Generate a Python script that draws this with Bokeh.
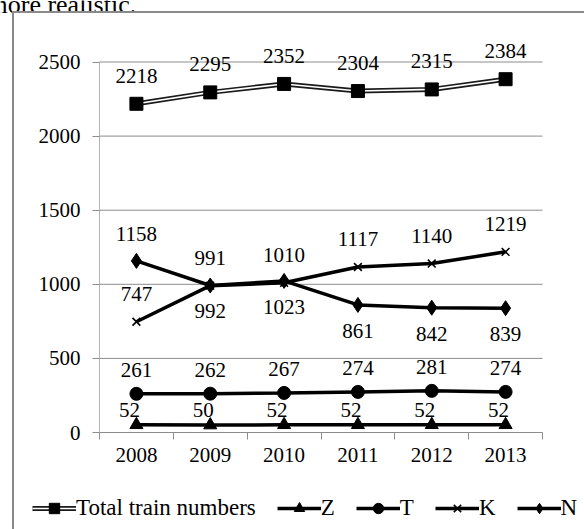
from bokeh.plotting import figure
from bokeh.layouts import column, row
from bokeh.models import Range1d, FixedTicker, Legend, LegendItem, Label, Spacer
from bokeh.embed import file_html
from bokeh.resources import INLINE
from bokeh.core.properties import value

# Train numbers by class, 2008-2013
years = ["2008", "2009", "2010", "2011", "2012", "2013"]
total = [2218, 2295, 2352, 2304, 2315, 2384]
z_trains = [52, 50, 52, 52, 52, 52]
t_trains = [261, 262, 267, 274, 281, 274]
k_trains = [747, 991, 1010, 1117, 1140, 1219]
n_trains = [1158, 992, 1023, 861, 842, 839]
y_ticks = [0, 500, 1000, 1500, 2000, 2500]

FONT = "Times New Roman"
GRID = "#8c8c8c"

xs = list(range(1, len(years) + 1))
x_lo, x_hi = xs[0] - 0.5, xs[-1] + 0.5

# ---- tail of the running text above the chart box
head = figure(width=584, height=13, output_backend="svg", toolbar_location=None,
              x_range=Range1d(0, 584), y_range=Range1d(0, 13),
              x_axis_type=None, y_axis_type=None, min_border=0)
head.outline_line_color = None
head.grid.visible = False
head.add_layout(Label(x=-13, y=9, text="more realistic.", text_font=FONT,
                      text_font_size="26px", text_color="black",
                      text_baseline="alphabetic"))

# ---- chart box: the frame fills the box, the axes sit inside it
PX_X = 443 / 6          # pixels per year
PX_Y = 370.5 / 2500     # pixels per train
W, H = 570, 516
LEFT, BOTTOM = 85, 97   # plot area offsets inside the box
p = figure(width=W, height=H, output_backend="svg", toolbar_location=None,
           x_range=Range1d(x_lo - LEFT / PX_X, x_hi + (W - LEFT - 443) / PX_X),
           y_range=Range1d(-BOTTOM / PX_Y, (H - BOTTOM) / PX_Y),
           min_border=0)
p.outline_line_color = None
p.background_fill_color = "white"
p.border_fill_color = "white"
p.styles = {"outline": "2px solid #8a8a8a"}

yax = p.yaxis[0]
yax.fixed_location = x_lo
yax.ticker = FixedTicker(ticks=y_ticks)
yax.bounds = (y_ticks[0], y_ticks[-1])
yax.axis_line_color = "#b4b4b4"
yax.major_tick_line_color = GRID
yax.major_tick_out = 7
yax.major_tick_in = 0
yax.minor_tick_line_color = None
yax.major_label_text_font = FONT
yax.major_label_text_font_size = "21px"
yax.major_label_text_color = "black"
yax.major_label_standoff = 12

# labels at year centres, tick marks between years
xax = p.xaxis[0]
xax.fixed_location = 0
xax.ticker = FixedTicker(ticks=xs, minor_ticks=[x - 0.5 for x in xs] + [x_hi])
xax.bounds = (x_lo, x_hi)
xax.major_label_overrides = {x: y for x, y in zip(xs, years)}
xax.major_tick_line_color = None
xax.major_tick_out = 7
xax.major_tick_in = 0
xax.minor_tick_line_color = GRID
xax.minor_tick_out = 7
xax.minor_tick_in = 0
xax.axis_line_color = GRID
xax.major_label_text_font = FONT
xax.major_label_text_font_size = "21px"
xax.major_label_text_color = "black"
xax.major_label_standoff = 8

p.grid.visible = False
# horizontal gridlines across the plot area only
p.segment(x0=x_lo, x1=x_hi, y0=y_ticks[1:], y1=y_ticks[1:], line_color=GRID, line_width=1)

# Total: double line with square markers
tot_outer = p.line(xs, total, line_color="#1a1a1a", line_width=5)
tot_inner = p.line(xs, total, line_color="white", line_width=1.6)
tot_mark = p.scatter(xs, total, marker="square", size=13, fill_color="black", line_color="black")

SER_LINE = dict(line_color="black", line_width=3.5)
z_line = p.line(xs, z_trains, **SER_LINE)
z_mark = p.scatter(xs, z_trains, marker="triangle", size=13, fill_color="black", line_color="black")

t_line = p.line(xs, t_trains, **SER_LINE)
t_mark = p.scatter(xs, t_trains, marker="circle", size=13, fill_color="black", line_color="black")

k_line = p.line(xs, k_trains, **SER_LINE)
k_mark = p.scatter(xs, k_trains, marker="x", size=11, line_color="black", line_width=1.6)

n_line = p.line(xs, n_trains, **SER_LINE)
n_mark = p.scatter(xs, n_trains, marker="diamond", size=15, fill_color="black", line_color="black")


def labels(vals, dy, dx=0):
    p.text(xs, vals, text=[str(v) for v in vals], x_offset=dx, y_offset=dy,
           text_align="center", text_baseline="middle",
           text_font=value(FONT), text_font_size="21px", text_color="black")


labels(total, -28)
labels(z_trains, -15, dx=-7)
labels(t_trains, -24)
labels(k_trains, -28)
n_label_side = ["above", "below", "below", "below", "below", "below"]
labels(n_trains, [-27 if s == "above" else 26 for s in n_label_side])

legend = Legend(items=[
    LegendItem(label="Total train numbers", renderers=[tot_outer, tot_inner, tot_mark]),
    LegendItem(label="Z", renderers=[z_line, z_mark]),
    LegendItem(label="T", renderers=[t_line, t_mark]),
    LegendItem(label="K", renderers=[k_line, k_mark]),
    LegendItem(label="N", renderers=[n_line, n_mark]),
], orientation="horizontal", location=(18, 8))
legend.border_line_color = None
legend.background_fill_alpha = 0
legend.label_text_font = FONT
legend.label_text_font_size = "23px"
legend.label_text_color = "black"
legend.glyph_width = 44
legend.glyph_height = 26
legend.label_width = 0
legend.label_standoff = 0
legend.spacing = 21
legend.padding = 0
legend.margin = 0
p.add_layout(legend, "center")

page = column(head, row(Spacer(width=14, height=H), p))

open("out.html", "w").write(file_html(page, INLINE))
